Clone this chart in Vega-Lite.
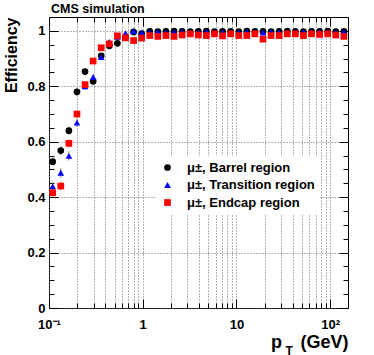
{
  "$schema": "https://vega.github.io/schema/vega-lite/v6.json",
  "width": 299,
  "height": 291,
  "autosize": {"type": "none"},
  "padding": {"left": 49, "top": 17, "right": 26, "bottom": 47},
  "background": "#ffffff",
  "title": {"text": "CMS simulation", "anchor": "start", "frame": "group", "font": "Liberation Sans", "fontSize": 12.5, "fontWeight": "bold", "color": "#000", "offset": 1, "dx": 2},
  "data": {"values": [
    {"s":"B","pt":0.1095,"eff":0.528,"err":0.014},
    {"s":"B","pt":0.1336,"eff":0.568,"err":0.016},
    {"s":"B","pt":0.1630,"eff":0.640,"err":0.015},
    {"s":"B","pt":0.1988,"eff":0.780,"err":0.013},
    {"s":"B","pt":0.2424,"eff":0.853,"err":0.011},
    {"s":"B","pt":0.2958,"eff":0.818,"err":0.011},
    {"s":"B","pt":0.3607,"eff":0.910,"err":0.009},
    {"s":"B","pt":0.4400,"eff":0.946,"err":0.007},
    {"s":"B","pt":0.5369,"eff":0.955,"err":0.006},
    {"s":"B","pt":0.6549,"eff":0.977,"err":0.005},
    {"s":"B","pt":0.7990,"eff":0.996,"err":0.004},
    {"s":"B","pt":0.9745,"eff":0.990,"err":0.004},
    {"s":"B","pt":1.189,"eff":0.998,"err":0.003},
    {"s":"B","pt":1.450,"eff":0.997,"err":0.003},
    {"s":"B","pt":1.769,"eff":0.998,"err":0.003},
    {"s":"B","pt":2.158,"eff":0.999,"err":0.003},
    {"s":"B","pt":2.632,"eff":0.998,"err":0.003},
    {"s":"B","pt":3.211,"eff":0.997,"err":0.003},
    {"s":"B","pt":3.916,"eff":0.998,"err":0.003},
    {"s":"B","pt":4.777,"eff":0.999,"err":0.003},
    {"s":"B","pt":5.828,"eff":0.997,"err":0.003},
    {"s":"B","pt":7.109,"eff":0.998,"err":0.003},
    {"s":"B","pt":8.672,"eff":0.998,"err":0.003},
    {"s":"B","pt":10.58,"eff":0.997,"err":0.003},
    {"s":"B","pt":12.90,"eff":0.999,"err":0.003},
    {"s":"B","pt":15.74,"eff":0.998,"err":0.003},
    {"s":"B","pt":19.20,"eff":0.998,"err":0.003},
    {"s":"B","pt":23.42,"eff":0.997,"err":0.003},
    {"s":"B","pt":28.57,"eff":0.998,"err":0.003},
    {"s":"B","pt":34.85,"eff":0.999,"err":0.003},
    {"s":"B","pt":42.51,"eff":0.998,"err":0.003},
    {"s":"B","pt":51.86,"eff":0.997,"err":0.003},
    {"s":"B","pt":63.25,"eff":0.998,"err":0.003},
    {"s":"B","pt":77.16,"eff":0.998,"err":0.003},
    {"s":"B","pt":94.12,"eff":0.999,"err":0.003},
    {"s":"B","pt":114.8,"eff":0.997,"err":0.003},
    {"s":"B","pt":140.1,"eff":0.998,"err":0.003},
    {"s":"T","pt":0.1095,"eff":0.439,"err":0.017},
    {"s":"T","pt":0.1336,"eff":0.488,"err":0.018},
    {"s":"T","pt":0.1630,"eff":0.549,"err":0.017},
    {"s":"T","pt":0.1988,"eff":0.669,"err":0.015},
    {"s":"T","pt":0.2424,"eff":0.800,"err":0.013},
    {"s":"T","pt":0.2958,"eff":0.833,"err":0.012},
    {"s":"T","pt":0.3607,"eff":0.905,"err":0.010},
    {"s":"T","pt":0.4400,"eff":0.960,"err":0.008},
    {"s":"T","pt":0.5369,"eff":0.978,"err":0.006},
    {"s":"T","pt":0.6549,"eff":0.992,"err":0.005},
    {"s":"T","pt":0.7990,"eff":0.999,"err":0.004},
    {"s":"T","pt":0.9745,"eff":0.994,"err":0.004},
    {"s":"T","pt":1.189,"eff":0.995,"err":0.003},
    {"s":"T","pt":1.450,"eff":0.996,"err":0.003},
    {"s":"T","pt":1.769,"eff":0.994,"err":0.003},
    {"s":"T","pt":2.158,"eff":0.995,"err":0.003},
    {"s":"T","pt":2.632,"eff":0.996,"err":0.003},
    {"s":"T","pt":3.211,"eff":0.995,"err":0.003},
    {"s":"T","pt":3.916,"eff":0.994,"err":0.003},
    {"s":"T","pt":4.777,"eff":0.996,"err":0.003},
    {"s":"T","pt":5.828,"eff":0.995,"err":0.003},
    {"s":"T","pt":7.109,"eff":0.994,"err":0.003},
    {"s":"T","pt":8.672,"eff":0.995,"err":0.003},
    {"s":"T","pt":10.58,"eff":0.994,"err":0.003},
    {"s":"T","pt":12.90,"eff":0.996,"err":0.003},
    {"s":"T","pt":15.74,"eff":0.995,"err":0.003},
    {"s":"T","pt":19.20,"eff":0.994,"err":0.003},
    {"s":"T","pt":23.42,"eff":0.996,"err":0.003},
    {"s":"T","pt":28.57,"eff":0.995,"err":0.003},
    {"s":"T","pt":34.85,"eff":0.994,"err":0.003},
    {"s":"T","pt":42.51,"eff":0.996,"err":0.003},
    {"s":"T","pt":51.86,"eff":0.995,"err":0.003},
    {"s":"T","pt":63.25,"eff":0.994,"err":0.003},
    {"s":"T","pt":77.16,"eff":0.996,"err":0.003},
    {"s":"T","pt":94.12,"eff":0.995,"err":0.003},
    {"s":"T","pt":114.8,"eff":0.994,"err":0.003},
    {"s":"T","pt":140.1,"eff":0.995,"err":0.003},
    {"s":"E","pt":0.1095,"eff":0.416,"err":0.015},
    {"s":"E","pt":0.1336,"eff":0.440,"err":0.016},
    {"s":"E","pt":0.1630,"eff":0.594,"err":0.015},
    {"s":"E","pt":0.1988,"eff":0.700,"err":0.013},
    {"s":"E","pt":0.2424,"eff":0.806,"err":0.011},
    {"s":"E","pt":0.2958,"eff":0.891,"err":0.009},
    {"s":"E","pt":0.3607,"eff":0.939,"err":0.008},
    {"s":"E","pt":0.4400,"eff":0.953,"err":0.007},
    {"s":"E","pt":0.5369,"eff":0.982,"err":0.005},
    {"s":"E","pt":0.6549,"eff":0.975,"err":0.005},
    {"s":"E","pt":0.7990,"eff":0.965,"err":0.004},
    {"s":"E","pt":0.9745,"eff":0.974,"err":0.004},
    {"s":"E","pt":1.189,"eff":0.983,"err":0.003},
    {"s":"E","pt":1.450,"eff":0.980,"err":0.003},
    {"s":"E","pt":1.769,"eff":0.983,"err":0.003},
    {"s":"E","pt":2.158,"eff":0.980,"err":0.003},
    {"s":"E","pt":2.632,"eff":0.985,"err":0.003},
    {"s":"E","pt":3.211,"eff":0.989,"err":0.003},
    {"s":"E","pt":3.916,"eff":0.985,"err":0.003},
    {"s":"E","pt":4.777,"eff":0.983,"err":0.003},
    {"s":"E","pt":5.828,"eff":0.989,"err":0.003},
    {"s":"E","pt":7.109,"eff":0.982,"err":0.003},
    {"s":"E","pt":8.672,"eff":0.989,"err":0.003},
    {"s":"E","pt":10.58,"eff":0.983,"err":0.003},
    {"s":"E","pt":12.90,"eff":0.983,"err":0.003},
    {"s":"E","pt":15.74,"eff":0.989,"err":0.003},
    {"s":"E","pt":19.20,"eff":0.970,"err":0.003},
    {"s":"E","pt":23.42,"eff":0.983,"err":0.003},
    {"s":"E","pt":28.57,"eff":0.983,"err":0.003},
    {"s":"E","pt":34.85,"eff":0.989,"err":0.003},
    {"s":"E","pt":42.51,"eff":0.989,"err":0.003},
    {"s":"E","pt":51.86,"eff":0.983,"err":0.003},
    {"s":"E","pt":63.25,"eff":0.989,"err":0.003},
    {"s":"E","pt":77.16,"eff":0.987,"err":0.003},
    {"s":"E","pt":94.12,"eff":0.989,"err":0.003},
    {"s":"E","pt":114.8,"eff":0.985,"err":0.003},
    {"s":"E","pt":140.1,"eff":0.980,"err":0.003}
  ]},
  "resolve": {"axis": {"x": "independent", "y": "independent"}},
  "layer": [
    {
      "mark": {"type": "errorbar", "color": "#888888", "thickness": 1},
      "encoding": {
        "x": {"field": "pt", "type": "quantitative", "scale": {"type": "log", "domain": [0.1, 155], "nice": false},
          "axis": {"orient": "bottom", "values": [0.2,0.3,0.4,0.5,0.6,0.7,0.8,0.9,2,3,4,5,6,7,8,9,20,30,40,50,60,70,80,90], "grid": true, "labels": false, "tickSize": -5, "title": "T", "titleFontSize": 12, "titleX": 236, "titleY": 46, "titleAlign": "left", "titleBaseline": "alphabetic", "titleAnchor": null}},
        "y": {"field": "eff", "type": "quantitative", "scale": {"domain": [0, 1.05], "nice": false},
          "axis": {"orient": "left", "values": [0.05,0.1,0.15,0.25,0.3,0.35,0.45,0.5,0.55,0.65,0.7,0.75,0.85,0.9,0.95,1.05], "grid": false, "labels": false, "tickSize": -5, "title": null}},
        "yError": {"field": "err"}
      }
    },
    {
      "mark": {"type": "point", "filled": true, "size": 45, "opacity": 1},
      "encoding": {
        "x": {"field": "pt", "type": "quantitative",
          "axis": {"orient": "bottom", "values": [0.1, 1, 10, 100], "grid": true, "ticks": false, "labelPadding": 10, "labelBaseline": "top", "labelExpr": "datum.value < 0.5 ? '10⁻¹' : datum.value < 5 ? '1' : datum.value < 50 ? '10' : '10²'", "title": "p\u00a0\u00a0\u00a0\u2009(GeV)", "titleFontSize": 18, "titleX": 299, "titleY": 39, "titleAlign": "right", "titleBaseline": "alphabetic", "titleAnchor": null}},
        "y": {"field": "eff", "type": "quantitative",
          "axis": {"orient": "left", "values": [0, 0.2, 0.4, 0.6, 0.8, 1], "format": "~g", "grid": true, "ticks": false, "labelPadding": 4, "title": "Efficiency", "titleFontSize": 16, "titleAngle": -90, "titleX": -33, "titleY": 0, "titleAlign": "right", "titleBaseline": "alphabetic", "titleAnchor": null}},
        "color": {"field": "s", "type": "nominal", "title": null, "scale": {"domain": ["B", "T", "E"], "range": ["#000000", "#0000ff", "#ff0000"]},
          "legend": {"labelExpr": "datum.label == 'B' ? 'μ±, Barrel region' : datum.label == 'T' ? 'μ±, Transition region' : 'μ±, Endcap region'"}},
        "shape": {"field": "s", "type": "nominal", "title": null, "scale": {"domain": ["B", "T", "E"], "range": ["circle", "triangle-up", "square"]},
          "legend": {"labelExpr": "datum.label == 'B' ? 'μ±, Barrel region' : datum.label == 'T' ? 'μ±, Transition region' : 'μ±, Endcap region'"}}
      }
    },
    {
      "mark": {"type": "point", "opacity": 0},
      "encoding": {
        "x": {"field": "pt", "type": "quantitative",
          "axis": {"orient": "top", "values": [0.2,0.3,0.4,0.5,0.6,0.7,0.8,0.9,2,3,4,5,6,7,8,9,20,30,40,50,60,70,80,90], "grid": false, "labels": false, "tickSize": -5, "title": null}},
        "y": {"field": "eff", "type": "quantitative",
          "axis": {"orient": "right", "values": [0.05,0.1,0.15,0.25,0.3,0.35,0.45,0.5,0.55,0.65,0.7,0.75,0.85,0.9,0.95,1.05], "grid": false, "labels": false, "tickSize": -5, "title": null}}
      }
    },
    {
      "mark": {"type": "point", "opacity": 0},
      "encoding": {
        "x": {"field": "pt", "type": "quantitative",
          "axis": {"orient": "top", "values": [0.1, 1, 10, 100], "grid": false, "labels": false, "tickSize": -9, "title": null}},
        "y": {"field": "eff", "type": "quantitative",
          "axis": {"orient": "right", "values": [0, 0.2, 0.4, 0.6, 0.8, 1], "grid": false, "labels": false, "tickSize": -9, "title": null}}
      }
    },
    {
      "mark": {"type": "point", "opacity": 0},
      "encoding": {
        "x": {"field": "pt", "type": "quantitative",
          "axis": {"orient": "bottom", "values": [0.1, 1, 10, 100], "grid": false, "labels": false, "tickSize": -9, "title": null}},
        "y": {"field": "eff", "type": "quantitative",
          "axis": {"orient": "left", "values": [0, 0.2, 0.4, 0.6, 0.8, 1], "grid": false, "labels": false, "tickSize": -9, "title": null}}
      }
    }
  ],
  "config": {
    "font": "Liberation Sans",
    "view": {"stroke": "#000000", "strokeWidth": 1},
    "axis": {"domain": false, "labelFont": "Liberation Sans", "labelFontWeight": "bold", "labelFontSize": 13, "labelColor": "#000000", "tickColor": "#000000", "tickWidth": 1, "titleFont": "Liberation Sans", "titleColor": "#000000", "titleFontWeight": "bold", "gridColor": "#666666", "gridDash": [1, 2], "gridWidth": 1, "gridOpacity": 1, "labelFlush": false, "labelOverlap": false},
    "legend": {"orient": "none", "legendX": 107, "legendY": 139, "fillColor": "#ffffff", "padding": 5, "labelFont": "Liberation Sans", "labelFontWeight": "bold", "labelFontSize": 13, "labelColor": "#000000", "symbolSize": 45, "symbolStrokeWidth": 0, "labelOffset": 13, "rowPadding": 3.5}
  }
}
